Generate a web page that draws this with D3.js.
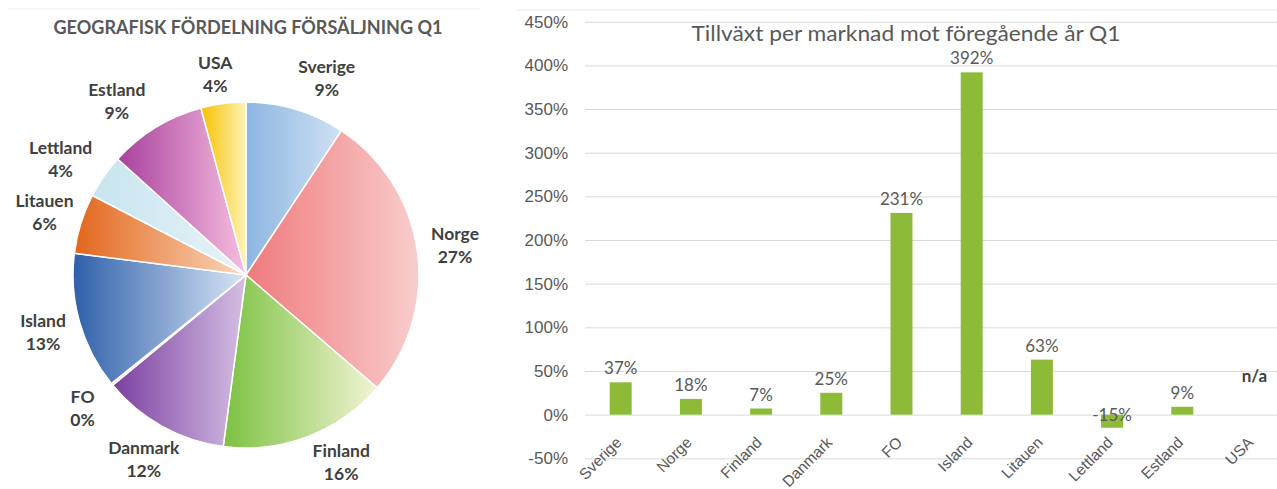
<!DOCTYPE html>
<html>
<head>
<meta charset="utf-8">
<script src="https://cdn.jsdelivr.net/npm/d3@7"></script>
<style>
  body { margin: 0; background: #fff; }
  svg { font-family: "Lato", "Open Sans", sans-serif; display: block; }
  .grid line { stroke: #d9d9d9; stroke-width: 1; }
  .grid .domain { display: none; }
  .grid text { fill: #595959; font-size: 17px; }
  .xaxis text { fill: #595959; font-size: 15.5px; }
  .xaxis .domain { display: none; }
  .pieLabel { fill: #404040; font-size: 17.5px; font-weight: bold; }
  .barLabel { fill: #595959; font-size: 17px; }
</style>
</head>
<body>
<script>
(function(){
  //data for the pie (share of sales, %)
  var markets = ["Sverige", "Norge", "Finland", "Danmark", "FO", "Island", "Litauen", "Lettland", "Estland", "USA"];
  var salesShare = [9.3, 27.0, 15.8, 11.9, 0.2, 12.8, 5.6, 4.1, 9.1, 4.2];

  //data for the bars (growth vs previous year, %), null = n/a
  var growth = [37, 18, 7, 25, 231, 392, 63, -15, 9, null];
  var yTicks = [-50, 0, 50, 100, 150, 200, 250, 300, 350, 400, 450];

  //gradient colours per slice (dark left -> light right)
  var darkColors = ["#8db6e2", "#ef7a7c", "#7cc142", "#7a3fa0", "#f2b6c8", "#2f60aa", "#e2661c", "#c7e4ee", "#a8409e", "#f7c000"];
  var lightColors = ["#cfe1f3", "#f9cdcd", "#f2f4d4", "#d5bfe3", "#f8dce4", "#d9e5f5", "#fbd8bd", "#e8f3f8", "#f6bede", "#fff4b4"];

  //label nudges where the chart pushed labels off the slice direction
  var labelNudge = { "Sverige": [20, 6], "Finland": [20, -10], "Estland": [-19, 6], "Lettland": [-12, 5], "USA": [-3, 9] };

  var width = 1277, height = 489;

  var svg = d3.select("body")
      .append("svg")
      .attr("width", width)
      .attr("height", height);

  var defs = svg.append("defs");

  setPie();
  setBars();

  function setPie(){
      var cx = 246, cy = 275, radius = 173;

      //faint frame line on top
      svg.append("line")
          .attr("x1", 8).attr("x2", 480)
          .attr("y1", 9).attr("y2", 9)
          .style("stroke", "#ececec");

      svg.append("text")
          .attr("x", 248)
          .attr("y", 34)
          .attr("text-anchor", "middle")
          .attr("textLength", 389)
          .attr("lengthAdjust", "spacingAndGlyphs")
          .style("font-size", "18.5px")
          .style("font-weight", "bold")
          .style("fill", "#595959")
          .text("GEOGRAFISK FÖRDELNING FÖRSÄLJNING Q1");

      //one gradient per slice
      markets.forEach(function(m, i){
          var grad = defs.append("linearGradient")
              .attr("id", "grad" + i)
              .attr("x1", "0%").attr("x2", "100%")
              .attr("y1", "0%").attr("y2", "0%");
          grad.append("stop").attr("offset", "0%").attr("stop-color", darkColors[i]);
          grad.append("stop").attr("offset", "100%").attr("stop-color", lightColors[i]);
      });

      var pie = d3.pie()
          .sort(null)
          .value(function(d){ return d; });

      var arcs = pie(salesShare);

      var arc = d3.arc()
          .innerRadius(0)
          .outerRadius(radius);

      var labelArc = d3.arc()
          .innerRadius(211)
          .outerRadius(211);

      var g = svg.append("g")
          .attr("transform", "translate(" + cx + "," + cy + ")");

      g.selectAll(".slice")
          .data(arcs)
          .enter()
          .append("path")
          .attr("class", "slice")
          .attr("d", arc)
          .style("fill", function(d, i){ return "url(#grad" + i + ")"; })
          .style("stroke", "#fff")
          .style("stroke-width", 1.5);

      var labels = g.selectAll(".pieLabel")
          .data(arcs)
          .enter()
          .append("text")
          .attr("class", "pieLabel")
          .attr("text-anchor", "middle")
          .attr("transform", function(d, i){
              var c = labelArc.centroid(d);
              var n = labelNudge[markets[i]] || [0, 0];
              return "translate(" + (c[0] + n[0]) + "," + (c[1] + n[1]) + ")";
          });

      labels.append("tspan")
          .attr("x", 0)
          .attr("y", -5.5)
          .text(function(d, i){ return markets[i]; });

      labels.append("tspan")
          .attr("x", 0)
          .attr("y", 17.5)
          .text(function(d){ return Math.round(d.data) + "%"; });
  };

  function setBars(){
      var left = 585, right = 1288;

      var yScale = d3.scaleLinear()
          .domain([-50, 450])
          .range([458.3, 21.7]);

      var xScale = d3.scaleBand()
          .domain(markets)
          .range([585.6, 1287.6])
          .paddingInner(0.687)
          .paddingOuter(0.687 / 2);

      //faint frame line on top
      svg.append("line")
          .attr("x1", 515).attr("x2", width)
          .attr("y1", 10).attr("y2", 10)
          .style("stroke", "#ececec");

      //gridlines + y labels
      var yAxis = d3.axisLeft(yScale)
          .tickValues(yTicks)
          .tickSize(-(right - left))
          .tickPadding(17)
          .tickFormat(function(d){ return d + "%"; });

      svg.append("g")
          .attr("class", "grid")
          .attr("transform", "translate(" + left + ",0)")
          .call(yAxis);

      //title
      svg.append("text")
          .attr("x", 906)
          .attr("y", 41)
          .attr("text-anchor", "middle")
          .attr("textLength", 429)
          .attr("lengthAdjust", "spacingAndGlyphs")
          .style("font-size", "21px")
          .style("fill", "#595959")
          .text("Tillväxt per marknad mot föregående år Q1");

      var data = markets.map(function(m, i){ return { name: m, value: growth[i] }; });

      svg.selectAll(".bar")
          .data(data.filter(function(d){ return d.value !== null; }))
          .enter()
          .append("rect")
          .attr("class", "bar")
          .attr("x", function(d){ return xScale(d.name); })
          .attr("width", xScale.bandwidth())
          .attr("y", function(d){ return yScale(Math.max(0, d.value)); })
          .attr("height", function(d){ return Math.abs(yScale(d.value) - yScale(0)); })
          .style("fill", "#8dbb38");

      //value labels
      svg.selectAll(".barLabel")
          .data(data)
          .enter()
          .append("text")
          .attr("class", "barLabel")
          .attr("text-anchor", "middle")
          .attr("x", function(d){
              return xScale(d.name) + xScale.bandwidth() / 2 + (d.value === null ? 2 : 0);
          })
          .attr("y", function(d){
              if (d.value === null) return yScale(0) - 33;
              if (d.value < 0) return yScale(0) + 6;
              return yScale(d.value) - 8;
          })
          .style("font-weight", function(d){ return d.value === null ? "bold" : "normal"; })
          .style("fill", function(d){ return d.value === null ? "#404040" : "#595959"; })
          .text(function(d){ return d.value === null ? "n/a" : d.value + "%"; });

      //category axis, rotated labels
      var xAxis = d3.axisBottom(xScale)
          .tickSize(0);

      svg.append("g")
          .attr("class", "xaxis")
          .attr("transform", "translate(0," + yScale(0) + ")")
          .call(xAxis)
          .selectAll("text")
          .attr("x", 0)
          .attr("y", 0)
          .attr("dy", "0.35em")
          .attr("text-anchor", "end")
          .attr("transform", "translate(-2,25) rotate(-45)");
  };

})();
</script>
</body>
</html>
